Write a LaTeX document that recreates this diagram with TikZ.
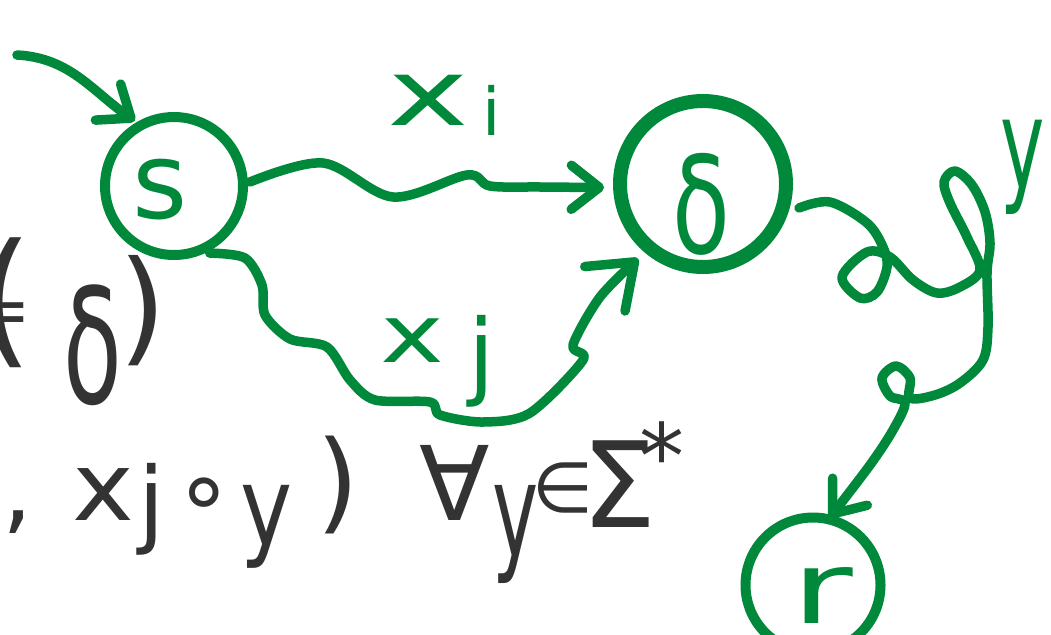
\documentclass[tikz,border=0pt]{standalone}
\usepackage{fontspec}
\setmainfont{DejaVu Sans}
\usetikzlibrary{arrows.meta}
\definecolor{ink}{RGB}{0,137,58}
\definecolor{pen}{RGB}{51,51,51}
\newcommand\fsz[1]{\fontsize{#1}{#1}\selectfont}
\begin{document}
\begin{tikzpicture}[x=1pt,y=-1pt,
  circ/.style={circle, draw=ink, line width=10pt, inner sep=0pt, minimum size=#1},
  conn/.style={draw=ink, line width=9.5pt, line cap=round, line join=round,
    -{Straight Barb[length=28pt,width=44pt,round]}},
  bigconn/.style={conn, -{Straight Barb[length=40pt,width=60pt,round]}},
  glab/.style={inner sep=0pt, anchor=base, text=ink},
  glyph/.style={inner sep=0pt, anchor=base, text=pen}]
\useasboundingbox (0,0) rectangle (1051,634);
\clip (0,0) rectangle (1051,634);

% states
\node[circ=138pt, outer sep=7pt] (s) at (174,186) {};
\node[circ=166pt, line width=14pt, outer sep=16pt] (d) at (703,184) {};
\node[circ=135pt, outer sep=2pt] (r) at (813,585) {};
\node[glab] (sl) at (160,218) {\fsz{106}s};
\node[glab] (dl) at (701,253) {\fsz{135}\scalebox{0.7}[1]{δ}};
\node[glab] (rl) at (822,623) {\fsz{100}\scalebox{1.5}[1]{r}};

% edge labels
\node[glab] (xi1) at (428,125) {\fsz{92}\scalebox{1.5}[1]{x}};
\node[glab] (xi2) at (492,135) {\fsz{66}i};
\node[glab] (xj1) at (412,362) {\fsz{80}\scalebox{1.35}[1]{x}};
\node[glab] (xj2) at (482,387) {\fsz{95}j};
\node[glab] (yl) at (1023,188) {\fsz{125}\scalebox{0.6}[1]{y}};

% connectors
\coordinate (in0) at (17,55);
\draw[conn] (in0) to[out=-3, in=145] (s.121);
\draw[conn] plot[smooth, tension=0.55] coordinates {(s.3) (323,163) (393,197) (467,175) (490,186) (540,187) (d.182)};
\draw[bigconn] plot[smooth, tension=0.5] coordinates {(s.-62) (245,258) (262,285) (265,315) (290,339) (327,347) (350,380) (375,400) (430,402) (440,415) (483,422) (530,413) (583,360) (573,345) (600,297) (d.-131)};
\draw[conn] plot[smooth, tension=0.55] coordinates {(d.-14) (830,202) (867,223) (883,247) (887,267) (877,292) (860,298) (842,277) (867,252) (890,257) (913,280) (937,293) (960,287) (980,270) (967,237) (950,203) (944,182) (955,171) (972,185) (985,212) (990,243) (987,273) (988,327) (983,360) (960,383) (935,395) (910,398) (910,378) (896,366) (882,378) (890,396) (905,403) (893,430) (870,465) (r.76)};

% black writing
\node[glyph] (lp) at (5,348) {\fsz{146}(};
\node[glyph] (eq) at (2,334) {\fsz{70}=};
\node[glyph] (dd) at (93,403) {\fsz{160}\scalebox{0.6}[1]{δ}};
\node[glyph] (rp) at (143,349) {\fsz{124})};

\node[glyph, anchor=base east] (oc) at (33,522) {\fsz{95}o,};
\node[glyph] (bx) at (103,520) {\fsz{95}\scalebox{1.1}[1]{x}};
\node[glyph] (bj) at (152,535) {\fsz{95}j};
\node[glyph] (bo) at (204,522) {\fsz{95}∘};
\node[glyph] (by) at (267,545) {\fsz{110}\scalebox{0.8}[1]{y}};
\node[glyph] (bp) at (338,519) {\fsz{110})};
\node[glyph] (fa) at (455,520) {\fsz{103}∀};
\node[glyph] (by2) at (516,556) {\fsz{130}\scalebox{0.6}[1]{y}};
\node[glyph] (el) at (563,512) {\fsz{70}∈};
\node[glyph] (sg) at (619,527) {\fsz{119}Σ};
\node[glyph] (st) at (662,488) {\fsz{90}*};
\end{tikzpicture}
\end{document}
